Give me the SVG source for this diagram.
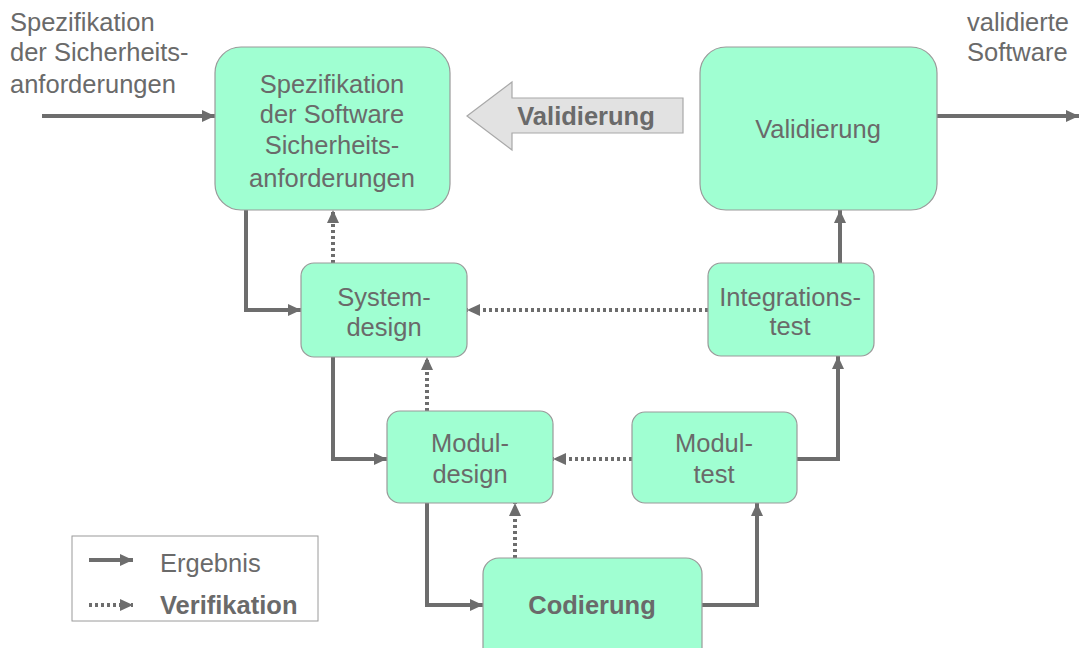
<svg xmlns="http://www.w3.org/2000/svg" width="1085" height="648" viewBox="0 0 1085 648">
<style>
.box{fill:#a0ffd2;stroke:#9a9a9a;stroke-width:1.2}
.t{font-family:"Liberation Sans",Arial,sans-serif;font-size:25.5px;fill:#6a6a6a;text-anchor:middle}
.tl{font-family:"Liberation Sans",Arial,sans-serif;font-size:25.5px;fill:#6a6a6a}
.b{font-weight:bold}
.s{fill:none;stroke:#6d6d6d;stroke-width:4}
.d{fill:none;stroke:#6d6d6d;stroke-width:4;stroke-dasharray:3 3}
</style>
<defs>
<marker id="ah" markerUnits="userSpaceOnUse" markerWidth="13" markerHeight="12" refX="13" refY="6" orient="auto">
<path d="M0,0 L13,6 L0,12 z" fill="#6d6d6d"/>
</marker>
</defs>
<rect width="1085" height="648" fill="#ffffff"/>
<text class="tl" x="10" y="31">Spezifikation</text>
<text class="tl" x="10" y="61">der Sicherheits-</text>
<text class="tl" x="10" y="93">anforderungen</text>
<text class="tl" x="967" y="31">validierte</text>
<text class="tl" x="967" y="61">Software</text>
<g id="connectors">
<path class="s" d="M42,116 H215" marker-end="url(#ah)"/>
<path class="s" d="M937,116 H1079" marker-end="url(#ah)"/>
<path class="s" d="M246,210 V310 H301" marker-end="url(#ah)"/>
<path class="d" d="M333,263 V210" marker-end="url(#ah)"/>
<path class="d" d="M708,310 H467" marker-end="url(#ah)"/>
<path class="s" d="M840,263 V210" marker-end="url(#ah)"/>
<path class="s" d="M333,357 V459 H387" marker-end="url(#ah)"/>
<path class="d" d="M427,411 V357" marker-end="url(#ah)"/>
<path class="d" d="M632,459 H553" marker-end="url(#ah)"/>
<path class="s" d="M797,459 H838 V356" marker-end="url(#ah)"/>
<path class="s" d="M427,503 V605 H483" marker-end="url(#ah)"/>
<path class="d" d="M515,558 V503" marker-end="url(#ah)"/>
<path class="s" d="M702,605 H757 V503" marker-end="url(#ah)"/>
</g>
<g id="validierung-arrow">
<path d="M467,116 L512,82 L512,98 L683,98 L683,133 L512,133 L512,150 Z" fill="#e2e2e2" stroke="#a8a8a8" stroke-width="1.2"/>
<text class="t b" x="586" y="125">Validierung</text>
</g>
<g id="spezifikation">
<rect class="box" x="215" y="47" width="235" height="163" rx="26"/>
<text class="t" x="332" y="93">Spezifikation</text>
<text class="t" x="332" y="123">der Software</text>
<text class="t" x="332" y="154">Sicherheits-</text>
<text class="t" x="332" y="187">anforderungen</text>
</g>
<g id="validierung">
<rect class="box" x="700" y="47" width="237" height="163" rx="26"/>
<text class="t" x="818" y="138">Validierung</text>
</g>
<g id="systemdesign">
<rect class="box" x="301" y="263" width="166" height="94" rx="13"/>
<text class="t" x="384" y="306">System-</text>
<text class="t" x="384" y="336">design</text>
</g>
<g id="integrationstest">
<rect class="box" x="708" y="263" width="166" height="93" rx="13"/>
<text class="t" x="790" y="306">Integrations-</text>
<text class="t" x="790" y="335">test</text>
</g>
<g id="moduldesign">
<rect class="box" x="387" y="411" width="166" height="92" rx="13"/>
<text class="t" x="470" y="452">Modul-</text>
<text class="t" x="470" y="483">design</text>
</g>
<g id="modultest">
<rect class="box" x="632" y="412" width="165" height="91" rx="13"/>
<text class="t" x="714" y="452">Modul-</text>
<text class="t" x="714" y="483">test</text>
</g>
<g id="codierung">
<rect class="box" x="483" y="558" width="219" height="110" rx="16"/>
<text class="t b" x="592" y="614">Codierung</text>
</g>
<g id="legend">
<rect x="72" y="536" width="246" height="85" fill="#ffffff" stroke="#9a9a9a" stroke-width="1"/>
<path class="s" d="M89,560 H133" stroke-width="3" marker-end="url(#ah)"/>
<path class="d" d="M89,605 H133" stroke-width="3" marker-end="url(#ah)"/>
<text class="tl" x="160" y="572">Ergebnis</text>
<text class="tl b" x="160" y="614">Verifikation</text>
</g>
</svg>
